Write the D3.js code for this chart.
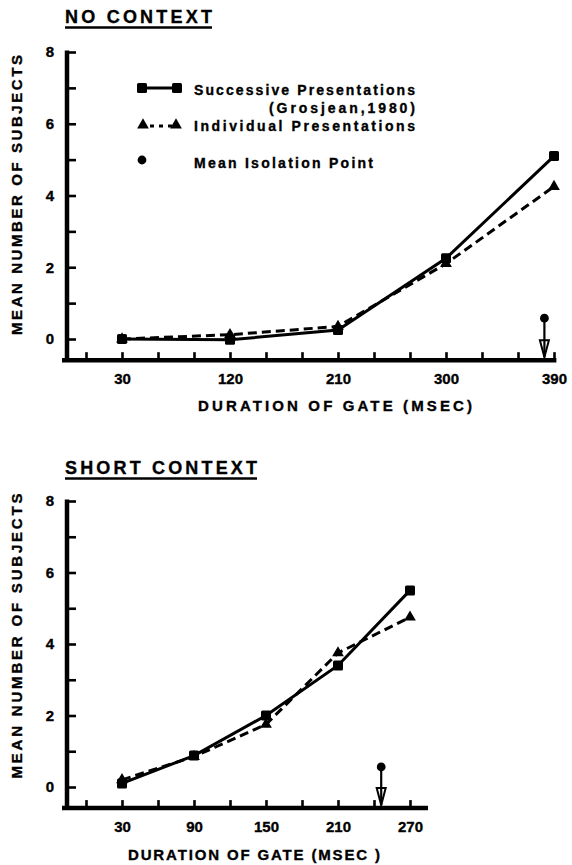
<!DOCTYPE html>
<html>
<head>
<meta charset="utf-8">
<script src="https://cdn.jsdelivr.net/npm/d3@7"></script>
<style>
  html, body { margin: 0; padding: 0; background: #fff; }
  svg text { font-family: "Liberation Sans", Arial, sans-serif; font-weight: bold; fill: #000; stroke: #000; stroke-width: 0.35; }
</style>
</head>
<body>
<svg id="chart" width="572" height="865"></svg>
<script>
// ---------- DATA ----------
const noContextGates = [30, 120, 210, 300, 390];
const noContextSuccessive = [0, -0.02, 0.25, 2.25, 5.1];
const noContextIndividual = [0, 0.12, 0.35, 2.1, 4.25];
const noContextIsolation = [382, 0.58];
const noContextTickLabels = [30, 120, 210, 300, 390];

const shortContextGates = [30, 90, 150, 210, 270];
const shortContextSuccessive = [0.1, 0.88, 2.0, 3.4, 5.5];
const shortContextIndividual = [0.2, 0.85, 1.75, 3.75, 4.75];
const shortContextIsolation = [246, 0.56];
const shortContextTickLabels = [30, 90, 150, 210, 270];

const yTickValues = [0, 1, 2, 3, 4, 5, 6, 7, 8];
const yTickLabels = [0, 2, 4, 6, 8];

const legendLabels = ["Successive Presentations", "(Grosjean,1980)", "Individual Presentations", "Mean Isolation Point"];

const svg = d3.select("#chart");

function drawPanel(cfg) {
  const g = svg.append("g");
  const x = d3.scaleLinear().domain([0, cfg.xMax]).range([86, cfg.xRight]);
  const y = d3.scaleLinear().domain([0, 8]).range([cfg.y0, cfg.y8]);
  const yBottom = -0.59, xLeft = -20;
  const axisY = y(yBottom);

  // title
  g.append("text").attr("x", 65).attr("y", cfg.titleY)
    .attr("font-size", 18).attr("textLength", cfg.titleLen).attr("lengthAdjust", "spacing")
    .text(cfg.title);
  g.append("line").attr("x1", 65).attr("x2", 65 + cfg.titleLen)
    .attr("y1", cfg.titleY + 4.5).attr("y2", cfg.titleY + 4.5)
    .attr("stroke", "#000").attr("stroke-width", 2.6);

  // y axis
  const yAxis = d3.axisLeft(y).tickValues(yTickValues)
    .tickSizeInner(-9).tickSizeOuter(0).tickPadding(13)
    .tickFormat(d => yTickLabels.includes(d) ? d : "");
  const ya = g.append("g").attr("transform", `translate(${x(xLeft) + 5},0)`).call(yAxis);
  ya.select(".domain").remove();
  ya.selectAll(".tick line").attr("stroke", "#000").attr("stroke-width", 2.6);
  ya.selectAll(".tick text").attr("font-size", 15).attr("font-family", "Liberation Sans, Arial, sans-serif").attr("font-weight", "bold");
  g.append("line").attr("x1", x(xLeft) + 5).attr("x2", x(xLeft) + 5)
    .attr("y1", y(8) - 1.5).attr("y2", axisY)
    .attr("stroke", "#000").attr("stroke-width", 4.5);

  // x axis
  const xAxis = d3.axisBottom(x).tickValues(d3.range(0, cfg.xMax + 1, 30))
    .tickSizeInner(-8).tickSizeOuter(0).tickPadding(13)
    .tickFormat(d => cfg.tickLabels.includes(d) ? d : "");
  const xa = g.append("g").attr("transform", `translate(0,${axisY})`).call(xAxis);
  xa.select(".domain").remove();
  xa.selectAll(".tick line").attr("stroke", "#000").attr("stroke-width", 2.6);
  xa.selectAll(".tick text").attr("font-size", 15).attr("font-family", "Liberation Sans, Arial, sans-serif").attr("font-weight", "bold");
  g.append("line").attr("x1", x(xLeft)).attr("x2", x(cfg.xEnd))
    .attr("y1", axisY).attr("y2", axisY)
    .attr("stroke", "#000").attr("stroke-width", 4.5);

  // axis titles
  g.append("text").attr("x", cfg.xTitleX).attr("y", cfg.xTitleY)
    .attr("font-size", 15).attr("textLength", cfg.xTitleLen).attr("lengthAdjust", "spacing")
    .text(cfg.xTitle);
  g.append("text").attr("transform", `translate(22,${cfg.yTitleC}) rotate(-90)`)
    .attr("text-anchor", "middle").attr("font-size", 15)
    .attr("textLength", cfg.yTitleLen).attr("lengthAdjust", "spacing")
    .text("MEAN NUMBER OF SUBJECTS");

  // series
  const succ = cfg.gates.map((d, i) => [d, cfg.successive[i]]);
  const ind = cfg.gates.map((d, i) => [d, cfg.individual[i]]);
  const line = d3.line().x(d => x(d[0])).y(d => y(d[1]));
  g.append("path").datum(ind).attr("d", line).attr("fill", "none")
    .attr("stroke", "#000").attr("stroke-width", 3).attr("stroke-dasharray", "9,5");
  g.append("path").datum(succ).attr("d", line).attr("fill", "none")
    .attr("stroke", "#000").attr("stroke-width", 3);
  const tri = d3.symbol().type(d3.symbolTriangle).size(60);
  g.selectAll(".tri").data(ind).join("path")
    .attr("transform", d => `translate(${x(d[0])},${y(d[1])})`)
    .attr("d", tri).attr("fill", "#000");
  g.selectAll(".sq").data(succ).join("rect")
    .attr("x", d => x(d[0]) - 5).attr("y", d => y(d[1]) - 5)
    .attr("width", 10).attr("height", 10).attr("rx", 1.5).attr("fill", "#000");

  // isolation point
  const ix = x(cfg.isolation[0]), iy = y(cfg.isolation[1]);
  g.append("line").attr("x1", ix).attr("x2", ix).attr("y1", iy).attr("y2", axisY - 3)
    .attr("stroke", "#000").attr("stroke-width", 2.2);
  g.append("path")
    .attr("d", `M${ix - 4.5},${axisY - 20} L${ix + 4.5},${axisY - 20} L${ix},${axisY - 3} Z`)
    .attr("fill", "none").attr("stroke", "#000").attr("stroke-width", 2);
  g.append("circle").attr("cx", ix).attr("cy", iy).attr("r", 4.4).attr("fill", "#000");

  return {g, x, y};
}

drawPanel({
  title: "NO CONTEXT", titleY: 23, titleLen: 147,
  xMax: 390, xRight: 554, xEnd: 392, y0: 339, y8: 52,
  tickLabels: noContextTickLabels,
  gates: noContextGates, successive: noContextSuccessive, individual: noContextIndividual,
  isolation: noContextIsolation,
  xTitle: "DURATION OF GATE (MSEC)", xTitleX: 198, xTitleY: 411, xTitleLen: 274,
  yTitleC: 195, yTitleLen: 280
});

drawPanel({
  title: "SHORT CONTEXT", titleY: 474, titleLen: 192,
  xMax: 270, xRight: 410, xEnd: 285, y0: 787, y8: 501,
  tickLabels: shortContextTickLabels,
  gates: shortContextGates, successive: shortContextSuccessive, individual: shortContextIndividual,
  isolation: shortContextIsolation,
  xTitle: "DURATION OF GATE (MSEC )", xTitleX: 128, xTitleY: 860, xTitleLen: 252,
  yTitleC: 636, yTitleLen: 285
});

// legend (top panel)
const lg = svg.append("g");
lg.append("line").attr("x1", 142).attr("x2", 177).attr("y1", 88).attr("y2", 88)
  .attr("stroke", "#000").attr("stroke-width", 3);
[142, 177].forEach(cx => lg.append("rect").attr("x", cx - 5).attr("y", 83)
  .attr("width", 10).attr("height", 10).attr("rx", 1.5).attr("fill", "#000"));
lg.append("line").attr("x1", 143).attr("x2", 176).attr("y1", 126).attr("y2", 126)
  .attr("stroke", "#000").attr("stroke-width", 3).attr("stroke-dasharray", "4,5").attr("stroke-dashoffset", -7);
[143, 176].forEach(cx => lg.append("path")
  .attr("transform", `translate(${cx},125)`)
  .attr("d", d3.symbol().type(d3.symbolTriangle).size(60)).attr("fill", "#000"));
lg.append("circle").attr("cx", 142).attr("cy", 160).attr("r", 4.4).attr("fill", "#000");

const legendPos = [[194, 95, 221], [269, 113, 146], [194, 131, 221], [194, 168, 179]];
legendLabels.forEach((t, i) => {
  lg.append("text").attr("x", legendPos[i][0]).attr("y", legendPos[i][1])
    .attr("font-size", 14).attr("textLength", legendPos[i][2]).attr("lengthAdjust", "spacing")
    .text(t);
});
</script>
</body>
</html>
